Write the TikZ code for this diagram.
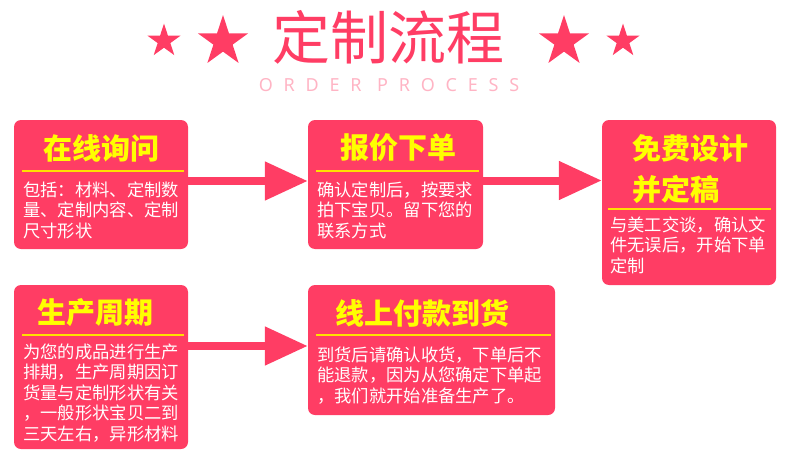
\documentclass[tikz,border=0pt]{standalone}
\usepackage{fontspec}
\usetikzlibrary{arrows.meta, shapes.geometric, positioning}
\newfontfamily\cjk{Noto Sans CJK SC}
\newfontfamily\spaced[LetterSpace=60]{Noto Sans}
\definecolor{PinkRed}{RGB}{255, 61, 100}
\definecolor{SoftPink}{RGB}{255, 180, 196}
\definecolor{TitleYellow}{RGB}{255, 255, 0}
\definecolor{RuleYellow}{RGB}{255, 225, 0}

\begin{document}
\begin{tikzpicture}[x=1pt, y=-1pt,
        box/.style={rectangle, rounded corners=7pt, fill=PinkRed, inner sep=0pt},
        heading/.style={font=\cjk\bfseries\fontsize{29}{41}\selectfont, text=TitleYellow, inner sep=0pt},
        body/.style={font=\cjk\fontsize{17.3}{20.5}\selectfont, text=white, align=left,
          anchor=north west, inner sep=0pt},
        rule/.style={RuleYellow, line width=1.3pt},
        flow/.style={PinkRed, line width=8pt, -{Triangle[length=43pt, width=37pt]}},
        spark/.style={star, star points=5, star point ratio=2.618, fill=PinkRed, inner sep=0pt}
      ]
        \useasboundingbox (0,0) rectangle (790,463);
        % header
        \node[font=\cjk\fontsize{58}{60}\selectfont, text=PinkRed, inner sep=0pt] (title) at (388,37) {定制流程};
        \node[font=\spaced\fontsize{18}{20}\selectfont, text=SoftPink, inner sep=0pt] (subtitle) at (389,85) {ORDER PROCESS};
        \node[spark, minimum size=35pt] (starA) at (164,41) {};
        \node[spark, minimum size=53pt] (starB) at (223,41.5) {};
        \node[spark, minimum size=53pt] (starC) at (564,41.5) {};
        \node[spark, minimum size=35pt] (starD) at (623,41) {};
        % boxes
        \node[box, minimum width=174pt, minimum height=129pt] (inquire) at (101,184.5) {};
        \node[box, minimum width=175pt, minimum height=129pt] (quote) at (395.5,184.5) {};
        \node[box, minimum width=174pt, minimum height=165pt] (design) at (689,202.5) {};
        \node[box, minimum width=174pt, minimum height=164pt] (produce) at (101,367) {};
        \node[box, minimum width=247pt, minimum height=130pt] (pay) at (431.5,350) {};
        % titles
        \node[heading] (inquireT) at (101,148) {在线询问};
        \node[heading] (quoteT) at (398,148) {报价下单};
        \node[heading, align=left, anchor=west] (designT) at (632,169.5) {免费设计\\并定稿};
        \node[heading] (produceT) at (95,313) {生产周期};
        \node[heading] (payT) at (422.5,313) {线上付款到货};
        % rules
        \draw[rule] (22,171) -- (184,171);
        \draw[rule] (316,171) -- (479,171);
        \draw[rule] (608,209) -- (771,209);
        \draw[rule] (22,335) -- (184,335);
        \draw[rule] (316,335) -- (551,335);
        % texts
        \node[body] (inquireB) at (23,181.5) {包括：材料、定制数\\量、定制内容、定制\\尺寸形状};
        \node[body] (quoteB) at (317,181.5) {确认定制后，按要求\\拍下宝贝。留下您的\\联系方式};
        \node[body] (designB) at (610,216.5) {与美工交谈，确认文\\件无误后，开始下单\\定制};
        \node[body] (produceB) at (23,343.5) {为您的成品进行生产\\排期，生产周期因订\\货量与定制形状有关\\，一般形状宝贝二到\\三天左右，异形材料};
        \node[body] (payB) at (317,346.5) {到货后请确认收货，下单后不\\能退款，因为从您确定下单起\\，我们就开始准备生产了。};
        % arrows
        \draw[flow] ([yshift=3.5pt]inquire.east) -- ([yshift=3.5pt]quote.west);
        \draw[flow] ([yshift=4pt]quote.east) -- ([yshift=4pt]quote.east -| design.west);
        \draw[flow] ([yshift=21pt]produce.east) -- ([yshift=21pt]produce.east -| pay.west);
      \end{tikzpicture}
\end{document}
